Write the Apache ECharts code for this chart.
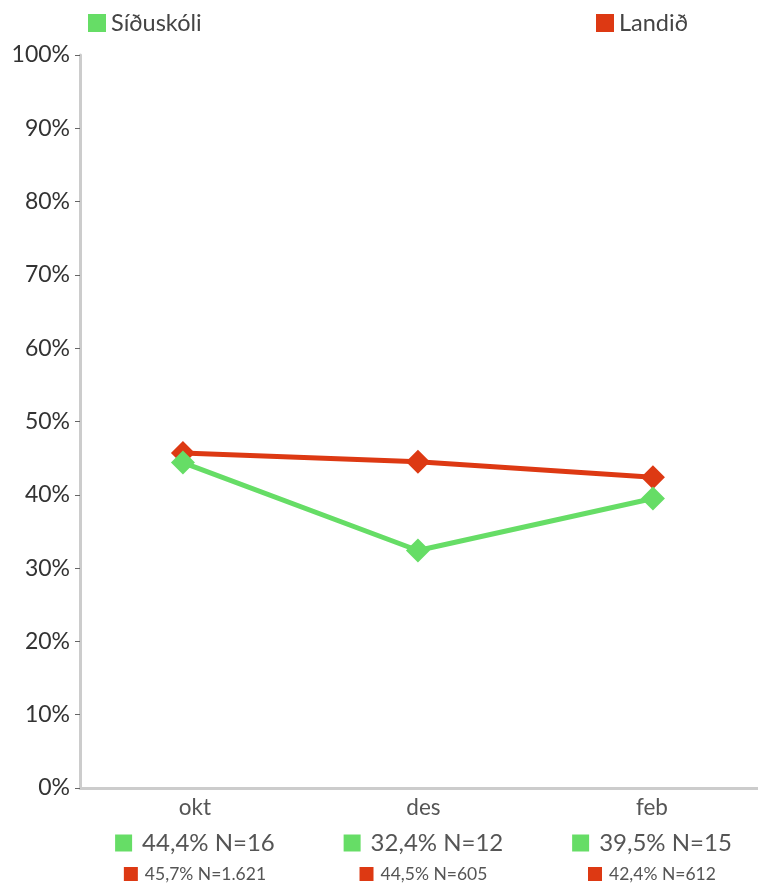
<!DOCTYPE html>
<html>
<head>
<meta charset="utf-8">
<script src="https://cdn.jsdelivr.net/npm/echarts@6/dist/echarts.min.js"></script>
<style>html,body{margin:0;padding:0;background:#fff}#c{width:758px;height:883px}</style>
</head>
<body>
<div id="c"></div>
<script>
var categories = ['okt', 'des', 'feb'];
var siduskoli = [44.4, 32.4, 39.5];
var siduskoliN = [16, 12, 15];
var landid = [45.7, 44.5, 42.4];
var landidN = [1621, 605, 612];
var yTicks = [0, 10, 20, 30, 40, 50, 60, 70, 80, 90, 100];

var GREEN = '#66dd66', RED = '#dd3913';
var FONT = 'Lato, "Noto Sans", sans-serif';

function pct(v) { return v.toFixed(1).replace('.', ','); }
function nfmt(n) { return String(n).replace(/\B(?=(\d{3})+(?!\d))/g, '.'); }

var chart = echarts.init(document.getElementById('c'));
chart.setOption({
  animation: false,
  textStyle: { fontFamily: FONT },
  grid: { left: 80, right: 0, top: 55, bottom: 94, containLabel: false },
  legend: [
    { data: ['Síðuskóli'], left: 83, top: 6, icon: 'rect', itemWidth: 18, itemHeight: 18, itemGap: 11,
      textStyle: { fontSize: 23.5, color: '#444', fontFamily: FONT } },
    { data: ['Landið'], left: 591, top: 6, icon: 'rect', itemWidth: 18, itemHeight: 18, itemGap: 10,
      textStyle: { fontSize: 23.5, color: '#444', fontFamily: FONT } }
  ],
  xAxis: [
    { type: 'value', min: -0.438, max: 2.447, position: 'bottom',
      axisLine: { show: true, onZero: false, lineStyle: { color: '#cccccc', width: 3 } },
      axisTick: { show: false }, axisLabel: { show: false }, splitLine: { show: false } },
    { type: 'value', min: -0.503, max: 2.464, position: 'bottom',
      axisLine: { show: false, onZero: false }, axisTick: { show: false }, splitLine: { show: false },
      axisLabel: {
        show: true, customValues: [0, 1, 2], margin: 6, align: 'center',
        formatter: function (v) {
          var i = Math.round(v);
          return '{c|' + categories[i] + '}\n' +
            '{g|}{gt|' + pct(siduskoli[i]) + '% N=' + siduskoliN[i] + '}\n' +
            '{r|}{rt|' + pct(landid[i]) + '% N=' + nfmt(landidN[i]) + '}';
        },
        rich: {
          c: { fontSize: 22.5, color: '#555', lineHeight: 28, fontFamily: FONT },
          g: { width: 17, height: 17, backgroundColor: GREEN, lineHeight: 42 },
          gt: { fontSize: 24, color: '#555', lineHeight: 42, padding: [0, 0, 0, 10], fontFamily: FONT },
          r: { width: 14, height: 14, backgroundColor: RED, lineHeight: 20 },
          rt: { fontSize: 17.5, color: '#555', lineHeight: 20, padding: [0, 0, 0, 7], fontFamily: FONT }
        }
      } }
  ],
  yAxis: {
    type: 'value', min: 0, max: 100, interval: 10,
    axisLine: { show: true, onZero: false, lineStyle: { color: '#cccccc', width: 3 } },
    axisTick: { show: true, length: 5, lineStyle: { color: '#666', width: 1 } },
    splitLine: { show: false },
    axisLabel: { formatter: '{value}%', fontSize: 23, color: '#333', margin: 10, fontFamily: FONT }
  },
  series: [
    { name: 'Síðuskóli', type: 'line', xAxisIndex: 0, data: siduskoli.map(function (v, i) { return [i, v]; }),
      itemStyle: { color: GREEN }, lineStyle: { color: GREEN, width: 5 },
      symbol: 'diamond', symbolSize: 24, z: 3 },
    { name: 'Landið', type: 'line', xAxisIndex: 0, data: landid.map(function (v, i) { return [i, v]; }),
      itemStyle: { color: RED }, lineStyle: { color: RED, width: 5 },
      symbol: 'diamond', symbolSize: 24, z: 2 }
  ]
});
</script>
</body>
</html>
